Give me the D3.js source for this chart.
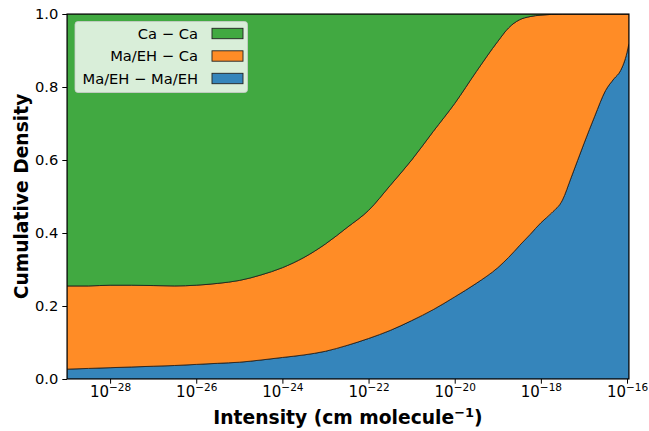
<!DOCTYPE html>
<html>
<head>
<meta charset="utf-8">
<script src="https://cdn.jsdelivr.net/npm/d3@7"></script>
<style>
  html, body { margin: 0; padding: 0; background: #fff; }
  svg { display: block; font-family: "DejaVu Sans", sans-serif; }
</style>
</head>
<body>
<svg id="chart" width="649" height="431"></svg>
<script>
// log10 of line intensity (cm molecule^-1) at each sample
const logIntensity = [-29, -28.5, -28, -27.5, -27, -26.5, -26, -25.5, -25, -24.5, -24, -23.5, -23, -22.5, -22,
  -21.5, -21, -20.5, -20, -19.5, -19, -18.75, -18.5, -18.25, -18, -17.75, -17.5, -17.3, -17, -16.75, -16.5,
  -16.3, -16.15, -16, -15.954];

// fraction of lines contributed by each pair type (stacked bottom to top)
const maehMaeh = [0.027, 0.029, 0.031, 0.033, 0.035, 0.037, 0.040, 0.043, 0.046, 0.052, 0.059, 0.066, 0.076, 0.092, 0.111,
  0.133, 0.160, 0.190, 0.225, 0.262, 0.305, 0.333, 0.365, 0.396, 0.428, 0.455, 0.490, 0.551, 0.645, 0.720, 0.790,
  0.823, 0.845, 0.895, 0.920];
const maehCa = [0.228, 0.226, 0.226, 0.224, 0.221, 0.218, 0.217, 0.219, 0.224, 0.233, 0.246, 0.267, 0.294, 0.323, 0.351,
  0.397, 0.440, 0.488, 0.530, 0.580, 0.620, 0.629, 0.619, 0.597, 0.569, 0.544, 0.510, 0.449, 0.355, 0.280, 0.210,
  0.177, 0.155, 0.105, 0.080];
const caCa = [0.745, 0.745, 0.743, 0.743, 0.744, 0.745, 0.743, 0.738, 0.730, 0.715, 0.695, 0.667, 0.630, 0.585, 0.538,
  0.470, 0.400, 0.322, 0.245, 0.158, 0.075, 0.038, 0.016, 0.007, 0.003, 0.001, 0, 0, 0, 0, 0,
  0, 0, 0, 0];

const seriesKeys = ["Ma/EH \u2212 Ma/EH", "Ma/EH \u2212 Ca", "Ca \u2212 Ca"];
const seriesColors = ["#3585bb", "#ff8c26", "#41a941"];

const xTickExponents = [-28, -26, -24, -22, -20, -18, -16];
const yTicks = [0.0, 0.2, 0.4, 0.6, 0.8, 1.0];

const svg = d3.select("#chart");
const plot = { left: 67, right: 629, top: 14, bottom: 379 };

const x = d3.scaleLog().domain([1e-29, Math.pow(10, -15.954)]).range([plot.left, plot.right]);
const y = d3.scaleLinear().domain([0, 1]).range([plot.bottom, plot.top]);

const rows = logIntensity.map((e, i) => ({
  intensity: Math.pow(10, e),
  [seriesKeys[0]]: maehMaeh[i],
  [seriesKeys[1]]: maehCa[i],
  [seriesKeys[2]]: caCa[i]
}));

const stacked = d3.stack().keys(seriesKeys)(rows);

svg.append("defs").append("clipPath").attr("id", "plotClip")
  .append("rect")
  .attr("x", plot.left).attr("y", plot.top)
  .attr("width", plot.right - plot.left).attr("height", plot.bottom - plot.top);

const area = d3.area()
  .x(d => x(d.data.intensity))
  .y0(d => y(Math.min(1, d[0])))
  .y1(d => y(Math.min(1, d[1])))
  .curve(d3.curveMonotoneX);

svg.append("g").attr("clip-path", "url(#plotClip)")
  .selectAll("path")
  .data(stacked)
  .join("path")
  .attr("d", area)
  .attr("fill", (d, i) => seriesColors[i])
  .attr("stroke", "#1a1a1a")
  .attr("stroke-width", 0.8)
  .attr("stroke-linejoin", "round");

// frame
svg.append("rect")
  .attr("x", plot.left).attr("y", plot.top)
  .attr("width", plot.right - plot.left).attr("height", plot.bottom - plot.top)
  .attr("fill", "none").attr("stroke", "#000").attr("stroke-width", 1.1);

// y axis
const yAxis = d3.axisLeft(y).tickValues(yTicks).tickFormat(d3.format(".1f")).tickSizeOuter(0).tickSize(4.7).tickPadding(4);
const gy = svg.append("g").attr("transform", `translate(${plot.left},0)`).call(yAxis);
gy.select(".domain").remove();
gy.selectAll(".tick line").attr("stroke", "#000").attr("stroke-width", 1);
gy.selectAll(".tick text").attr("font-size", "14.7px").attr("fill", "#000")
  .attr("font-family", "DejaVu Sans, sans-serif");

// x axis with 10^n labels
const xAxis = d3.axisBottom(x).tickValues(xTickExponents.map(e => Math.pow(10, e)))
  .tickFormat("").tickSizeOuter(0).tickSize(4.7);
const gx = svg.append("g").attr("transform", `translate(0,${plot.bottom})`).call(xAxis);
gx.select(".domain").remove();
gx.selectAll(".tick line").attr("stroke", "#000").attr("stroke-width", 1);
gx.selectAll(".tick").each(function (d, i) {
  const t = d3.select(this).append("text")
    .attr("y", 18)
    .attr("text-anchor", "middle")
    .attr("fill", "#000")
    .attr("font-family", "DejaVu Sans, sans-serif")
    .attr("font-size", "15px");
  t.append("tspan").text("10");
  t.append("tspan").attr("dy", -6).attr("font-size", "10.5px").text("\u2212" + Math.abs(xTickExponents[i]));
});

// axis titles
const xTitle = svg.append("text")
  .attr("x", (plot.left + plot.right) / 2).attr("y", 424)
  .attr("text-anchor", "middle")
  .attr("font-size", "18.7px").attr("font-weight", "bold").attr("fill", "#000");
xTitle.append("tspan").text("Intensity (cm molecule");
xTitle.append("tspan").attr("dy", -7).attr("font-size", "13px").text("\u22121");
xTitle.append("tspan").attr("dy", 7).text(")");

svg.append("text")
  .attr("transform", `translate(28,${(plot.top + plot.bottom) / 2}) rotate(-90)`)
  .attr("text-anchor", "middle")
  .attr("font-size", "18.7px").attr("font-weight", "bold").attr("fill", "#000")
  .text("Cumulative Density");

// legend (top series listed first)
const legend = svg.append("g");
legend.append("rect")
  .attr("x", 75).attr("y", 21.5).attr("width", 172.5).attr("height", 71)
  .attr("rx", 3).attr("ry", 3)
  .attr("fill", "#ffffff").attr("fill-opacity", 0.8)
  .attr("stroke", "#cccccc").attr("stroke-opacity", 0.8).attr("stroke-width", 1);

const legendOrder = [2, 1, 0];
legendOrder.forEach((si, row) => {
  const cy = 33.5 + row * 22.5;
  legend.append("rect")
    .attr("x", 212).attr("y", cy - 5.2).attr("width", 31).attr("height", 10.4)
    .attr("fill", seriesColors[si]).attr("stroke", "#222").attr("stroke-width", 0.9);
  legend.append("text")
    .attr("x", 198).attr("y", cy + 5.2)
    .attr("text-anchor", "end")
    .attr("font-size", "14.7px").attr("fill", "#000")
    .text(seriesKeys[si]);
});
</script>
</body>
</html>
